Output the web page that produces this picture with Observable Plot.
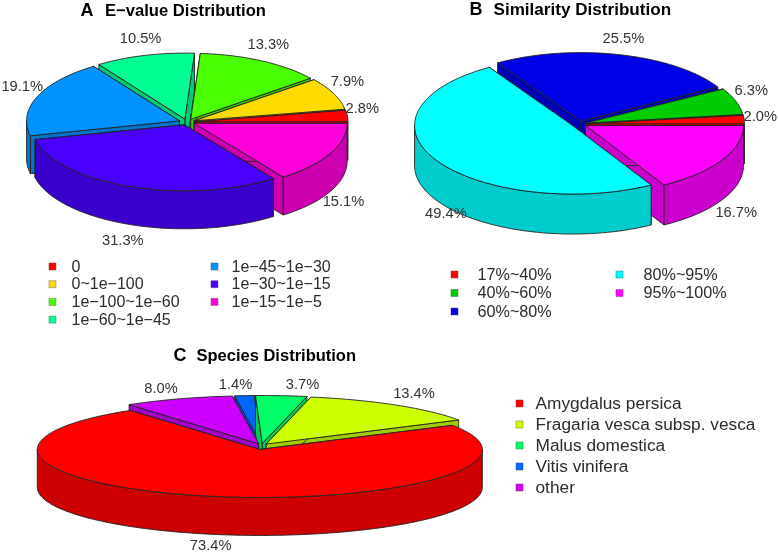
<!DOCTYPE html>
<html>
<head>
<meta charset="utf-8">
<style>html,body{margin:0;padding:0;background:#fff}</style>
<script src="https://cdn.jsdelivr.net/npm/d3@7"></script>
<script src="https://cdn.jsdelivr.net/npm/@observablehq/plot@0.6"></script>
</head>
<body>
<div id="chart"></div>
<script>
// ---- data ----
const evalueCategories = ["0", "0~1e\u2212100", "1e\u2212100~1e\u221260", "1e\u221260~1e\u221245", "1e\u221245~1e\u221230", "1e\u221230~1e\u221215", "1e\u221215~1e\u22125"];
const evalueShares = [2.8, 7.9, 13.3, 10.5, 19.1, 31.3, 15.1];
const evalueColors = ["#FF0000", "#FFDB00", "#49FF00", "#00FF92", "#0092FF", "#4900FF", "#FF00DB"];

const similarityCategories = ["17%~40%", "40%~60%", "60%~80%", "80%~95%", "95%~100%"];
const similarityShares = [2.0, 6.3, 25.5, 49.4, 16.7];
const similarityColors = ["#FF0000", "#00CC00", "#0000E6", "#00FFFF", "#FF00FF"];

const speciesCategories = ["Amygdalus persica", "Fragaria vesca subsp. vesca", "Malus domestica", "Vitis vinifera", "other"];
const speciesShares = [73.4, 13.4, 3.7, 1.4, 8.0];
const speciesColors = ["#FF0000", "#CCFF00", "#00FF66", "#0066FF", "#CC00FF"];

// ---- layout (separate from the data) ----
const pies = [
  {categories: evalueCategories, shares: evalueShares, colors: evalueColors,
   cx: 186.5, cy: 121.5, rx: 153, ry: 66, depth: 38, ex: 8, ey: 3, start: 0,
   nudgeX: [0, 0, 0, 0, -1, -2, 0], nudgeY: [2, 0, -1, -2, 1, 0, -2],
   legend: {swatchX: [52, 214], textX: [71, 231], rows: [4, 3], y0: 266, dy: 17.7, size: 16}},
  {categories: similarityCategories, shares: similarityShares, colors: similarityColors,
   cx: 578.5, cy: 123.5, rx: 158, ry: 68.5, depth: 40, ex: 7.5, ey: 3, start: 0,
   nudgeX: [0, 0, 0, 23, 0], nudgeY: [6, 0, 0, 0, 0],
   legend: {swatchX: [454, 619], textX: [477, 643], rows: [3, 2], y0: 274, dy: 18.5, size: 16.2}},
  {categories: speciesCategories, shares: speciesShares, colors: speciesColors,
   cx: 261, cy: 446, rx: 222.5, ry: 48, depth: 38, ex: 8, ey: 3, start: 125.6,
   nudgeX: [3, 3, 19, -7, -8], nudgeY: [-2, 1, 2, 2, 2],
   legend: {swatchX: [519], textX: [535], rows: [5], y0: 403, dy: 21, size: 17.3}}
];
const headings = [
  {letter: "A", lx: 80, title: "E\u2212value Distribution", tx: 104.5, y: 10, size: 16.6},
  {letter: "B", lx: 469, title: "Similarity Distribution", tx: 493, y: 9, size: 17.1},
  {letter: "C", lx: 173, title: "Species Distribution", tx: 196, y: 355, size: 16.5}
];
const rad = Math.PI / 180;
const labelRadius = 1.15;
const labelLift = 9;

// ---- geometry derived from the shares ----
const polys = [], labels = [], swatches = [], legendTexts = [];
let pid = 0;
function addPoly(pts, fill) {
  const id = pid++;
  for (const [x, y] of [...pts, pts[0]]) polys.push({id, x, y, fill});
}
for (const p of pies) {
  const total = d3.sum(p.shares);
  let a = p.start;
  const slices = p.shares.map((v, i) => {
    const a0 = a, a1 = a + v / total * 360;
    a = a1;
    return {v, i, a0, a1, mid: (a0 + a1) / 2, color: p.colors[i]};
  });
  const arcPt = (s, deg) => {
    const ox = p.cx + p.ex * Math.cos(s.mid * rad), oy = p.cy - p.ey * Math.sin(s.mid * rad);
    return [ox + p.rx * Math.cos(deg * rad), oy - p.ry * Math.sin(deg * rad)];
  };
  const apex = s => [p.cx + p.ex * Math.cos(s.mid * rad), p.cy - p.ey * Math.sin(s.mid * rad)];
  const down = ([x, y]) => [x, y + p.depth];
  const order = [...slices].sort((s, t) => Math.sin(t.mid * rad) - Math.sin(s.mid * rad));
  for (const s of order) {
    const c = d3.rgb(s.color);
    const dark = d3.rgb(c.r * 0.8, c.g * 0.8, c.b * 0.8).formatHex();
    const ap = apex(s);
    const e0 = arcPt(s, s.a0), e1 = arcPt(s, s.a1);
    addPoly([ap, e0, down(e0), down(ap)], dark);
    addPoly([ap, e1, down(e1), down(ap)], dark);
    // outer wall: the front-facing part of the arc, sin < 0
    const ranges = [[180, 360], [540, 720]];
    for (const [lo, hi] of ranges) {
      const from = Math.max(s.a0, lo), to = Math.min(s.a1, hi);
      if (to > from) {
        const n = Math.max(2, Math.ceil(to - from));
        const arc = d3.range(n + 1).map(k => arcPt(s, from + (to - from) * k / n));
        addPoly([...arc, ...arc.slice().reverse().map(down)], dark);
      }
    }
    const n = Math.max(2, Math.ceil(s.a1 - s.a0));
    const top = d3.range(n + 1).map(k => arcPt(s, s.a0 + (s.a1 - s.a0) * k / n));
    addPoly([ap, ...top], s.color);
    // percentage label
    const sn = Math.sin(s.mid * rad), cs = Math.cos(s.mid * rad);
    labels.push({
      x: p.cx + labelRadius * p.rx * cs + p.nudgeX[s.i],
      y: p.cy - labelRadius * p.ry * sn - Math.sign(sn) * labelLift + (sn < 0 ? p.depth : 0) + p.nudgeY[s.i],
      text: s.v.toFixed(1) + "%"
    });
  }
  // legend
  let idx = 0;
  p.legend.rows.forEach((count, col) => {
    for (let r = 0; r < count; r++, idx++) {
      const y = p.legend.y0 + r * p.legend.dy;
      swatches.push({x: p.legend.swatchX[col], y, fill: p.colors[idx]});
      legendTexts.push({x: p.legend.textX[col], y, text: p.categories[idx], size: p.legend.size});
    }
  });
}
const bySize = d3.groups(legendTexts, d => d.size);

const plot = Plot.plot({
  width: 778, height: 553,
  margin: 0,
  x: {domain: [0, 778], range: [0, 778], axis: null},
  y: {domain: [0, 553], range: [0, 553], axis: null},
  color: {type: "identity"},
  style: {background: "#fff", fontFamily: "'Liberation Sans', Arial, sans-serif", filter: "blur(0.35px)"},
  marks: [
    Plot.line(polys, {x: "x", y: "y", z: "id", fill: "fill", stroke: "#222", strokeWidth: 0.9, strokeLinejoin: "round"}),
    Plot.text(labels, {x: "x", y: "y", text: "text", fontSize: 14.7, fill: "#333"}),
    Plot.dot(swatches, {x: "x", y: "y", fill: "fill", symbol: "square", r: 4, stroke: "#555", strokeWidth: 0.4}),
    ...bySize.map(([size, rows]) => Plot.text(rows, {x: "x", y: "y", text: "text", textAnchor: "start", fontSize: size, fill: "#2c2c2c"})),
    ...headings.map(h => Plot.text([h], {x: "tx", y: "y", text: "title", textAnchor: "start", fontWeight: "bold", fontSize: h.size, fill: "#000"})),
    ...headings.map(h => Plot.text([h], {x: "lx", y: "y", text: "letter", textAnchor: "start", fontWeight: "bold", fontSize: 18, fill: "#000"}))
  ]
});
document.getElementById("chart").append(plot);
</script>
</body>
</html>
